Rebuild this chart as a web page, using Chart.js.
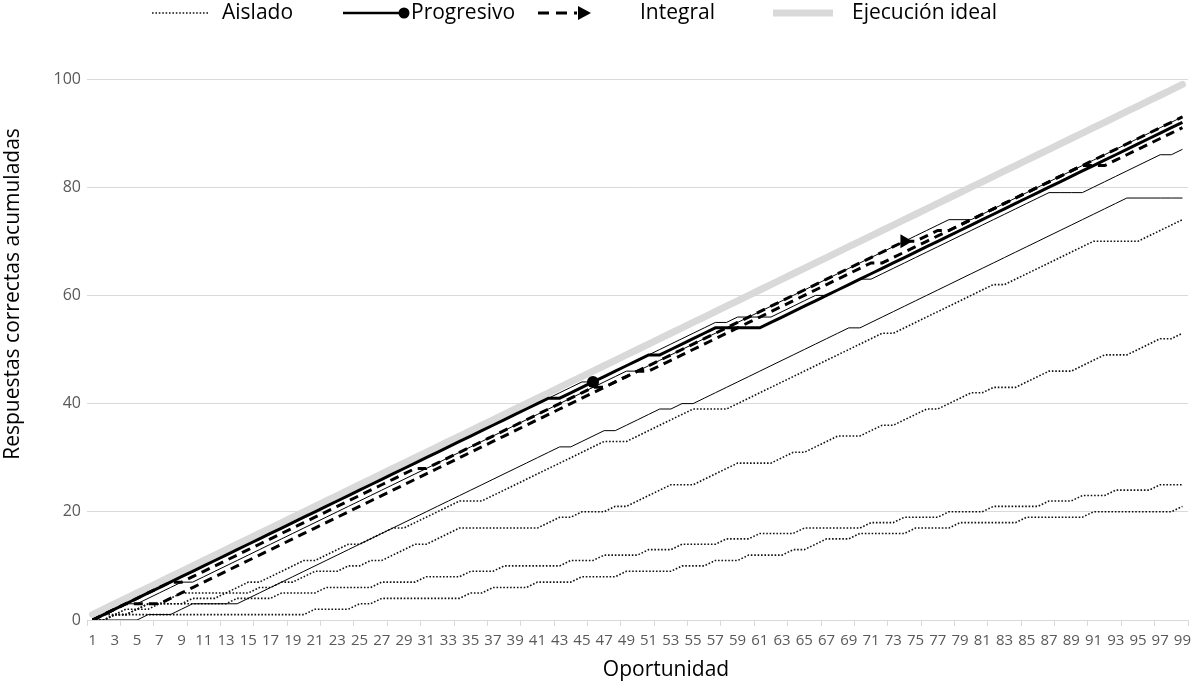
<!DOCTYPE html>
<html>
<head>
<meta charset="utf-8">
<script src="https://cdn.jsdelivr.net/npm/chart.js@4.4.1/dist/chart.umd.min.js"></script>
<style>
  html, body { margin: 0; padding: 0; background: #fff; }
  canvas { display: block; }
</style>
</head>
<body>
<canvas id="chart" width="1194" height="682"></canvas>
<script>
// Oportunidad 1..99
const opportunities = [
  1,2,3,4,5,6,7,8,9,10,11,12,13,14,15,16,17,18,19,20,
  21,22,23,24,25,26,27,28,29,30,31,32,33,34,35,36,37,38,39,40,
  41,42,43,44,45,46,47,48,49,50,51,52,53,54,55,56,57,58,59,60,
  61,62,63,64,65,66,67,68,69,70,71,72,73,74,75,76,77,78,79,80,
  81,82,83,84,85,86,87,88,89,90,91,92,93,94,95,96,97,98,99
];

// Ejecución ideal
const ideal = [
  1,2,3,4,5,6,7,8,9,10,11,12,13,14,15,16,17,18,19,20,
  21,22,23,24,25,26,27,28,29,30,31,32,33,34,35,36,37,38,39,40,
  41,42,43,44,45,46,47,48,49,50,51,52,53,54,55,56,57,58,59,60,
  61,62,63,64,65,66,67,68,69,70,71,72,73,74,75,76,77,78,79,80,
  81,82,83,84,85,86,87,88,89,90,91,92,93,94,95,96,97,98,99
];

// Progresivo (thick line, marker at opportunity 46)
const progresivo = [
  0,1,2,3,4,5,6,7,8,9,
  10,11,12,13,14,15,16,17,18,19,
  20,21,22,23,24,25,26,27,28,29,
  30,31,32,33,34,35,36,37,38,39,
  40,41,41,42,43,44,45,46,47,48,
  49,49,50,51,52,53,54,54,54,54,
  54,55,56,57,58,59,60,61,62,63,
  64,65,66,67,68,69,70,71,72,73,
  74,75,76,77,78,79,80,81,82,83,
  84,85,86,87,88,89,90,91,92
];

// other participants, thin solid
const solidA = [
  0,1,2,3,4,5,6,7,8,9,
  10,11,12,13,14,15,16,17,18,19,
  20,21,22,23,24,25,26,27,28,29,
  30,31,32,33,34,35,36,37,38,39,
  40,41,42,43,44,44,45,46,47,48,
  49,50,51,52,53,54,55,55,56,56,
  57,58,59,60,61,62,63,64,65,66,
  67,68,69,70,71,72,73,74,74,74,
  75,76,77,78,79,80,81,82,83,84,
  85,86,87,88,89,90,91,92,93
];
const solidB = [
  0,1,2,3,3,4,5,6,7,7,
  8,9,10,11,12,13,14,15,16,17,
  18,19,20,21,22,23,24,25,26,27,
  28,29,30,31,32,33,34,35,36,37,
  38,39,40,41,42,43,44,45,46,46,
  47,48,49,50,51,52,53,54,55,56,
  56,56,57,58,59,60,60,61,62,63,
  63,64,65,66,67,68,69,70,71,72,
  73,74,75,76,77,78,79,79,79,79,
  80,81,82,83,84,85,86,86,87
];
const solidC = [
  0,0,0,0,0,1,1,1,2,3,
  3,3,3,3,4,5,6,7,8,9,
  10,11,12,13,14,15,16,17,18,19,
  20,21,22,23,24,25,26,27,28,29,
  30,31,32,32,33,34,35,35,36,37,
  38,39,39,40,40,41,42,43,44,45,
  46,47,48,49,50,51,52,53,54,54,
  55,56,57,58,59,60,61,62,63,64,
  65,66,67,68,69,70,71,72,73,74,
  75,76,77,78,78,78,78,78,78
];

// Integral (thick dashed, arrow at opportunity 74)
const integral = [
  0,1,2,3,4,5,6,7,7,8,
  9,10,11,12,13,14,15,16,17,18,
  19,20,21,22,23,24,25,26,27,28,
  28,29,30,31,32,33,34,35,36,37,
  38,39,40,41,42,43,43,44,45,46,
  47,48,49,50,51,52,53,54,55,56,
  57,58,59,60,61,62,63,64,65,66,
  67,68,69,70,70,71,72,72,73,74,
  75,76,77,78,79,80,81,82,83,84,
  85,86,87,88,89,90,91,92,93
];
const integralB = [
  0,1,2,3,3,3,3,4,5,6,
  7,8,9,10,11,12,13,14,15,16,
  17,18,19,20,21,22,23,24,25,26,
  27,28,29,30,31,32,33,34,35,36,
  37,38,39,40,41,42,43,44,45,46,
  46,47,48,49,50,51,52,53,54,55,
  56,57,58,59,60,61,62,63,64,65,
  66,66,67,68,69,70,71,72,73,74,
  75,76,77,78,79,80,81,82,83,84,
  84,84,85,86,87,88,89,90,91
];

// Aislado (dotted)
const aislado1 = [
  0,0,1,1,2,3,3,4,5,5,
  5,5,5,6,7,7,8,9,10,11,
  11,12,13,14,14,15,16,17,17,18,
  19,20,21,22,22,22,23,24,25,26,
  27,28,29,30,31,32,33,33,33,34,
  35,36,37,38,39,39,39,39,40,41,
  42,43,44,45,46,47,48,49,50,51,
  52,53,53,54,55,56,57,58,59,60,
  61,62,62,63,64,65,66,67,68,69,
  70,70,70,70,70,71,72,73,74
];
const aislado2 = [
  0,0,1,1,2,2,3,3,3,4,
  4,4,5,5,5,6,6,7,7,8,
  9,9,9,10,10,11,11,12,13,14,
  14,15,16,17,17,17,17,17,17,17,
  17,18,19,19,20,20,20,21,21,22,
  23,24,25,25,25,26,27,28,29,29,
  29,29,30,31,31,32,33,34,34,34,
  35,36,36,37,38,39,39,40,41,42,
  42,43,43,43,44,45,46,46,46,47,
  48,49,49,49,50,51,52,52,53
];
const aislado3 = [
  0,1,1,2,2,3,3,3,3,3,
  3,3,3,4,4,4,4,5,5,5,
  5,6,6,6,6,6,7,7,7,7,
  8,8,8,8,9,9,9,10,10,10,
  10,10,10,11,11,11,12,12,12,12,
  13,13,13,14,14,14,14,15,15,15,
  16,16,16,16,17,17,17,17,17,17,
  18,18,18,19,19,19,19,20,20,20,
  20,21,21,21,21,21,22,22,22,23,
  23,23,24,24,24,24,25,25,25
];
const aislado4 = [
  0,0,1,1,1,1,1,1,1,1,
  1,1,1,1,1,1,1,1,1,1,
  2,2,2,2,3,3,4,4,4,4,
  4,4,4,4,5,5,6,6,6,6,
  7,7,7,7,8,8,8,8,9,9,
  9,9,9,10,10,10,11,11,11,12,
  12,12,12,13,13,14,15,15,15,16,
  16,16,16,16,17,17,17,17,18,18,
  18,18,18,18,19,19,19,19,19,19,
  20,20,20,20,20,20,20,20,21
];

const yTicks = [0, 20, 40, 60, 80, 100];
const xLabelTicks = opportunities.filter(n => n % 2 === 1);

const FONT = '"Open Sans", "Noto Sans", sans-serif';

function thin(data) {
  return { data, borderColor: '#000', borderWidth: 1, pointRadius: 0, fill: false };
}
function dotted(data) {
  return { data, borderColor: '#111', borderWidth: 1.6, borderDash: [1.6, 1.8], pointRadius: 0, fill: false };
}

const overlay = {
  id: 'overlay',
  afterDraw(chart) {
    const ctx = chart.ctx;
    const y = 13;
    ctx.save();
    ctx.font = '21px ' + FONT;
    ctx.fillStyle = '#000';
    ctx.textBaseline = 'middle';

    // Aislado
    ctx.beginPath();
    ctx.setLineDash([1.6, 1.8]);
    ctx.lineWidth = 1.6;
    ctx.strokeStyle = '#111';
    ctx.moveTo(152, y); ctx.lineTo(208, y); ctx.stroke();
    ctx.fillText('Aislado', 222, y);

    // Progresivo
    ctx.beginPath();
    ctx.setLineDash([]);
    ctx.lineWidth = 2.5;
    ctx.strokeStyle = '#000';
    ctx.moveTo(343, y); ctx.lineTo(403, y); ctx.stroke();
    ctx.beginPath();
    ctx.arc(404, y, 5.5, 0, Math.PI * 2);
    ctx.fill();
    ctx.fillText('Progresivo', 411, y);

    // Integral
    ctx.beginPath();
    ctx.setLineDash([11, 7]);
    ctx.lineWidth = 3;
    ctx.moveTo(538, y); ctx.lineTo(577, y); ctx.stroke();
    ctx.setLineDash([]);
    ctx.beginPath();
    ctx.moveTo(578, y - 7); ctx.lineTo(591, y); ctx.lineTo(578, y + 7);
    ctx.closePath();
    ctx.fill();
    ctx.fillText('Integral', 640, y);

    // Ejecución ideal
    ctx.beginPath();
    ctx.lineWidth = 7;
    ctx.strokeStyle = '#d9d9d9';
    ctx.moveTo(773, y); ctx.lineTo(833, y); ctx.stroke();
    ctx.fillText('Ejecución ideal', 852, y);

    // axis titles
    ctx.textAlign = 'center';
    ctx.fillText('Oportunidad', 666, 670);
    ctx.translate(13, 294);
    ctx.rotate(-Math.PI / 2);
    ctx.fillText('Respuestas correctas acumuladas', 0, 0);
    ctx.restore();
  }
};

new Chart(document.getElementById('chart'), {
  type: 'line',
  data: {
    labels: opportunities,
    datasets: [
      {
        label: 'Progresivo', data: progresivo, borderColor: '#000', borderWidth: 3,
        pointRadius: ctx => ctx.dataIndex === 45 ? 6 : 0,
        pointBackgroundColor: '#000', pointBorderWidth: 0, fill: false
      },
      {
        label: 'Integral', data: integral, borderColor: '#000', borderWidth: 3, borderDash: [9, 6],
        pointStyle: 'triangle', rotation: 90,
        pointRadius: ctx => ctx.dataIndex === 73 ? 8 : 0,
        pointBackgroundColor: '#000', pointBorderWidth: 0, fill: false
      },
      { label: 'Integral 2', data: integralB, borderColor: '#000', borderWidth: 3, borderDash: [9, 6], pointRadius: 0, fill: false },
      thin(solidA),
      thin(solidB),
      thin(solidC),
      dotted(aislado1),
      dotted(aislado2),
      dotted(aislado3),
      dotted(aislado4),
      {
        label: 'Ejecución ideal', data: ideal, borderColor: '#d9d9d9', borderWidth: 7,
        borderCapStyle: 'round', pointRadius: 0, fill: false
      }
    ]
  },
  options: {
    responsive: false,
    animation: false,
    events: [],
    layout: { padding: { top: 79, right: 5, left: 0, bottom: 0 } },
    plugins: { legend: { display: false }, tooltip: { enabled: false } },
    scales: {
      x: {
        type: 'linear',
        min: 0.5,
        max: 99.5,
        afterBuildTicks(scale) {
          const marks = [];
          for (let v = 0.5; v <= 99.5; v += 3) marks.push(v);
          scale.ticks = xLabelTicks.concat(marks).sort((a, b) => a - b).map(v => ({ value: v }));
        },
        afterFit(scale) { scale.height = 62; },
        ticks: {
          autoSkip: false,
          maxRotation: 0,
          padding: 6,
          color: '#595959',
          font: { family: FONT, size: 15 },
          callback: v => Number.isInteger(v) ? String(v) : ''
        },
        grid: {
          drawOnChartArea: false,
          drawTicks: true,
          tickLength: 6,
          color: ctx => ctx.tick && Number.isInteger(ctx.tick.value) ? 'rgba(0,0,0,0)' : '#d9d9d9'
        },
        border: { display: true, color: '#d9d9d9' }
      },
      y: {
        min: 0,
        max: 100,
        afterBuildTicks(scale) { scale.ticks = yTicks.map(v => ({ value: v })); },
        afterFit(scale) { scale.width = 87; },
        ticks: { padding: 6, color: '#595959', font: { family: FONT, size: 16 } },
        grid: { color: '#d9d9d9', drawTicks: false },
        border: { display: false }
      }
    }
  },
  plugins: [overlay]
});
</script>
</body>
</html>
